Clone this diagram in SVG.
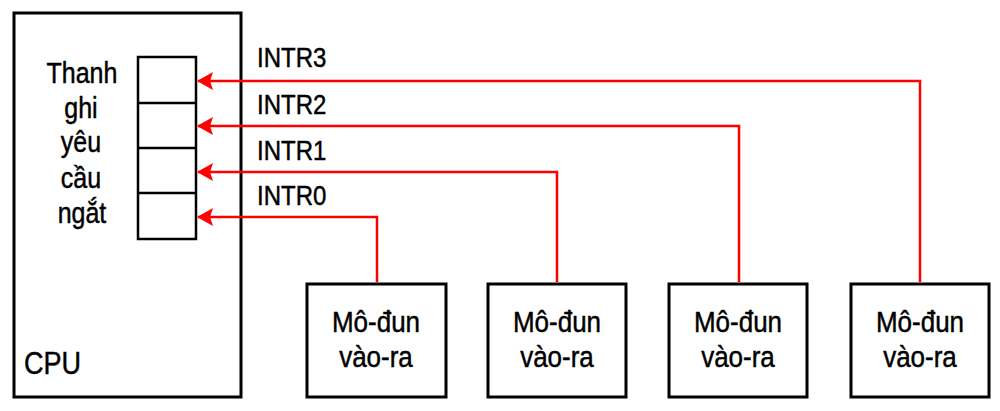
<svg xmlns="http://www.w3.org/2000/svg" width="1000" height="411" viewBox="0 0 1000 411">
<defs>
<style>
.box{fill:#fff;stroke:#000;stroke-width:3}
.reg{fill:#fff;stroke:#000;stroke-width:2.5}
.t{font-family:"Liberation Sans",Arial,sans-serif;font-size:24px;fill:#000;stroke:#000;stroke-width:0.4}
.r{font-size:25px}
.m{font-size:26px}
.p{font-size:27px}
.c{text-anchor:middle}
.w{fill:none;stroke:#ff0000;stroke-width:2.5}
</style>
<marker id="ah" viewBox="0 0 16 18" refX="15" refY="9" markerWidth="16" markerHeight="18" markerUnits="userSpaceOnUse" orient="auto">
<path d="M16,9 L0,0 L3,9 L0,18 Z" fill="#ff0000"/>
</marker>
</defs>
<rect width="1000" height="411" fill="#fff"/>
<g id="cpu">
<rect class="box" x="14" y="13" width="227" height="384"/>
<g transform="scale(1,1.17)">
<text class="t p" x="24" y="319.66">CPU</text>
<text class="t r c" x="82" y="70.94">Thanh</text>
<text class="t r c" x="81" y="100.85">ghi</text>
<text class="t r c" x="81" y="129.91">yêu</text>
<text class="t r c" x="81" y="160.68">cầu</text>
<text class="t r c" x="82" y="190.6">ngắt</text>
</g>
</g>
<g id="register">
<rect class="reg" x="138" y="57" width="58" height="182"/>
<line x1="138" y1="103" x2="196" y2="103" stroke="#000" stroke-width="2.5"/>
<line x1="138" y1="148" x2="196" y2="148" stroke="#000" stroke-width="2.5"/>
<line x1="138" y1="193" x2="196" y2="193" stroke="#000" stroke-width="2.5"/>
</g>
<g id="io0">
<rect class="box" x="307" y="284" width="139" height="113"/>
<g transform="scale(1,1.17)">
<text class="t m c" x="376" y="283.76">Mô-đun</text>
<text class="t m c" x="376" y="313.68">vào-ra</text>
</g>
</g>
<g id="io1">
<rect class="box" x="488" y="284" width="138" height="113"/>
<g transform="scale(1,1.17)">
<text class="t m c" x="557" y="283.76">Mô-đun</text>
<text class="t m c" x="557" y="313.68">vào-ra</text>
</g>
</g>
<g id="io2">
<rect class="box" x="669" y="284" width="138" height="113"/>
<g transform="scale(1,1.17)">
<text class="t m c" x="738" y="283.76">Mô-đun</text>
<text class="t m c" x="738" y="313.68">vào-ra</text>
</g>
</g>
<g id="io3">
<rect class="box" x="851" y="284" width="138" height="113"/>
<g transform="scale(1,1.17)">
<text class="t m c" x="920" y="283.76">Mô-đun</text>
<text class="t m c" x="920" y="313.68">vào-ra</text>
</g>
</g>
<g id="connectors">
<path class="w" d="M920,282 V81 H198" marker-end="url(#ah)"/>
<path class="w" d="M739,282 V126 H198" marker-end="url(#ah)"/>
<path class="w" d="M557,282 V172 H198" marker-end="url(#ah)"/>
<path class="w" d="M377,282 V217 H198" marker-end="url(#ah)"/>
<g transform="scale(1,1.17)">
<text class="t" x="257" y="57.26">INTR3</text>
<text class="t" x="257" y="97.44">INTR2</text>
<text class="t" x="257" y="136.75">INTR1</text>
<text class="t" x="257" y="175.21">INTR0</text>
</g>
</g>
</svg>
